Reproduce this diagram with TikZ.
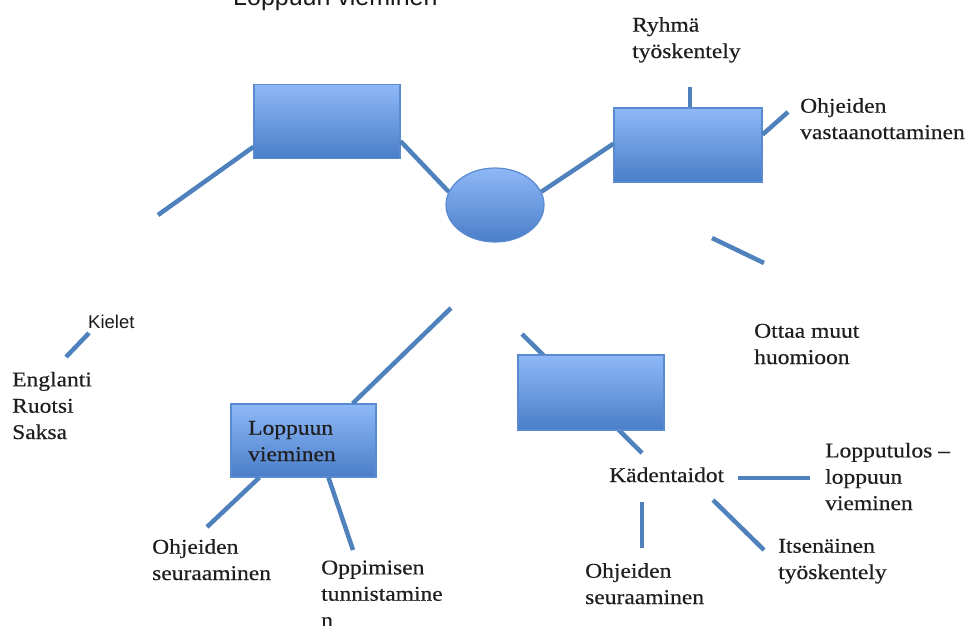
\documentclass[tikz,border=0pt]{standalone}
\usepackage{fontspec}
\setmainfont{Liberation Serif}[FakeStretch=1.12,FakeBold=0.4]
\newfontfamily\arialfont{Liberation Sans}
\usetikzlibrary{shapes.geometric}
\definecolor{linkblue}{HTML}{4F81BD}
\definecolor{boxtop}{HTML}{8EB8F8}
\definecolor{boxbot}{HTML}{4A7EC8}
\definecolor{boxline}{HTML}{5A8AD0}
\definecolor{txtgray}{HTML}{1E1E1E}

\begin{document}
\begin{tikzpicture}[x=1pt,y=-1pt,
    link/.style={draw=linkblue,line width=4.5pt},
    box/.style={draw=boxline,line width=1.2pt,top color=boxtop,bottom color=boxbot,
      inner sep=0pt,shape=rectangle},
    oval/.style={draw=boxline,line width=1.2pt,top color=boxtop,bottom color=boxbot,
      inner sep=0pt,shape=ellipse,minimum width=98pt,minimum height=74pt},
    txt/.style={anchor=base west,align=left,inner sep=0pt,text=txtgray,
      font=\fontsize{21}{26.3}\selectfont},
    sans/.style={anchor=base west,inner sep=0pt,text=black!90,font=\arialfont}]
  \useasboundingbox (0,0) rectangle (969,625) ;
  % line behind the lower right box
  \coordinate (k1) at (522,334) ;
  \coordinate (k2) at (642,453) ;
  \draw[link] (k1) -- (k2) ;
  % boxes
  \node[box,minimum width=146pt,minimum height=74pt] (b1) at (327,121.5) {} ;
  \node[oval] (hub) at (495,205) {} ;
  \node[box,minimum width=148pt,minimum height=74pt] (b2) at (688,145) {} ;
  \node[box,minimum width=145pt,minimum height=73pt] (b3) at (303.5,440.5) {} ;
  \node[box,minimum width=146pt,minimum height=75pt] (b4) at (591,392.5) {} ;
  % texts (placed at the baseline of their last line)
  \node[sans,font=\arialfont\fontsize{25}{30}\selectfont] (title) at (233,5) {Loppuun vieminen} ;
  \node[txt] (ryhma) at (632,58) {Ryhmä\\työskentely} ;
  \node[txt] (vast) at (800,139) {Ohjeiden\\vastaanottaminen} ;
  \node[txt] (ottaa) at (754,364) {Ottaa muut\\huomioon} ;
  \node[sans,font=\arialfont\fontsize{18.5}{22}\selectfont] (kielet) at (88,328) {Kielet} ;
  \node[txt] (kiel) at (12,439) {Englanti\\Ruotsi\\Saksa} ;
  \node[txt] (lv) at (248,461) {Loppuun\\vieminen} ;
  \node[txt] (seur1) at (152,580) {Ohjeiden\\seuraaminen} ;
  \node[txt] (opp) at (321,627) {Oppimisen\\tunnistamine\\n} ;
  \node[txt] (kaden) at (609,482) {Kädentaidot} ;
  \node[txt] (lopp) at (825,510) {Lopputulos –\\loppuun\\vieminen} ;
  \node[txt] (itse) at (778,579) {Itsenäinen\\työskentely} ;
  \node[txt] (seur2) at (585,604) {Ohjeiden\\seuraaminen} ;
  % free ends
  \coordinate (a1) at (158,215) ;
  \coordinate (a2) at (690,87) ;
  \coordinate (a3) at (788,112) ;
  \coordinate (a4) at (712,238) ;
  \coordinate (a5) at (764,263) ;
  \coordinate (a6) at (66,357) ;
  \coordinate (a7) at (89,333) ;
  \coordinate (a8) at (451,308) ;
  \coordinate (a9) at (207,527) ;
  \coordinate (a10) at (353,550) ;
  \coordinate (a11) at (738,478) ;
  \coordinate (a12) at (810,478) ;
  \coordinate (a13) at (642,502) ;
  \coordinate (a14) at (642,548) ;
  \coordinate (a15) at (713,500) ;
  \coordinate (a16) at (764,550) ;
  % connectors
  \draw[link] (a1) -- (b1.199) ;
  \draw[link] (b1.-15) -- (hub.164) ;
  \draw[link] (hub.16) -- (b2.179) ;
  \draw[link] (a2) -- (a2 |- b2.north) ;
  \draw[link] (b2.8) -- (a3) ;
  \draw[link] (a4) -- (a5) ;
  \draw[link] (a6) -- (a7) ;
  \draw[link] (b3.37) -- (a8) ;
  \draw[link] (b3.220) -- (a9) ;
  \draw[link] (b3.-56) -- (a10) ;
  \draw[link] (a11) -- (a12) ;
  \draw[link] (a13) -- (a14) ;
  \draw[link] (a15) -- (a16) ;
\end{tikzpicture}
\end{document}
